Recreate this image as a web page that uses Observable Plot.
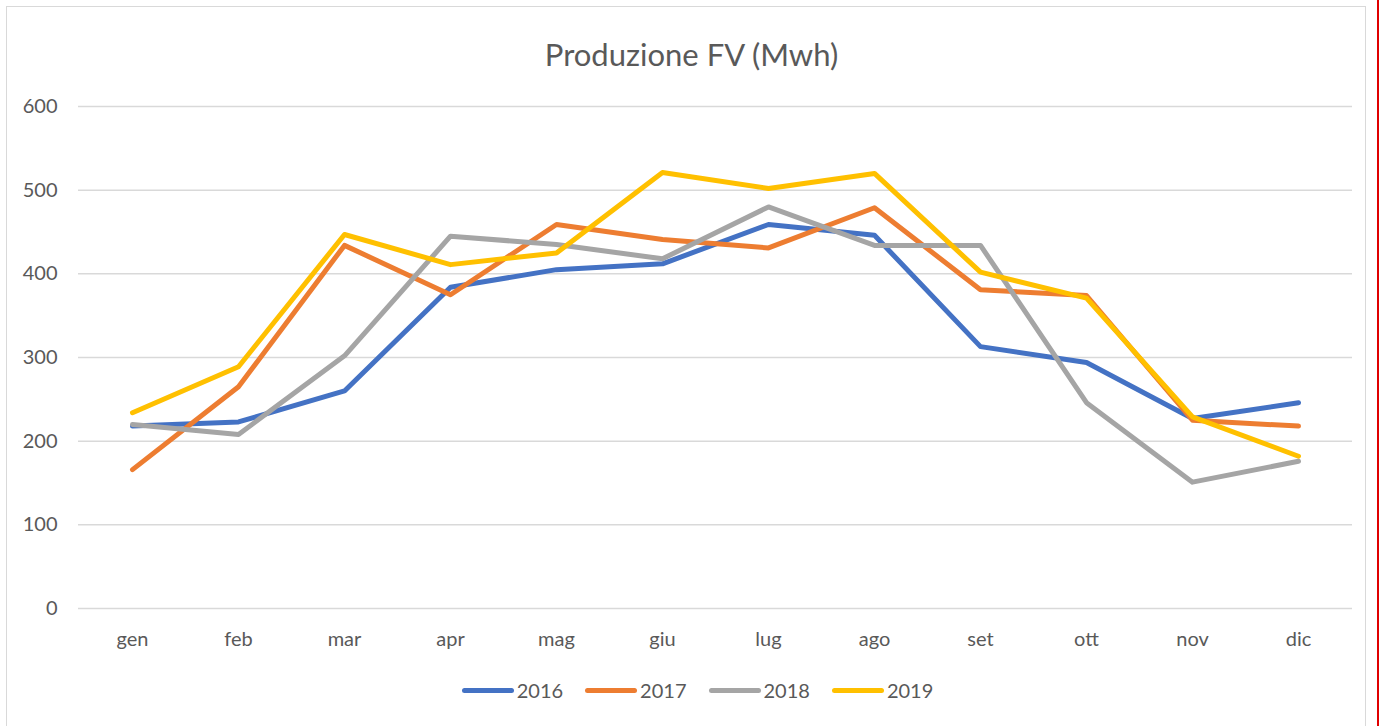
<!DOCTYPE html>
<html>
<head>
<meta charset="utf-8">
<script src="https://cdn.jsdelivr.net/npm/d3@7"></script>
<script src="https://cdn.jsdelivr.net/npm/@observablehq/plot@0.6"></script>
<style>
  html, body { margin: 0; padding: 0; background: #fff; }
  #frame { position: relative; width: 1383px; height: 726px; overflow: hidden; font-family: Lato, "Open Sans", sans-serif; }
  #border { position: absolute; left: 6px; top: 6px; width: 1360px; height: 740px; border: 1px solid #d9d9d9; box-sizing: border-box; }
  #redline { position: absolute; left: 1377px; top: 0; width: 2px; height: 726px; background: #e00000; }
  #title { position: absolute; left: 0; top: 35px; width: 1383px; text-align: center; font-size: 31px; color: #595959; }
  #chart { position: absolute; left: 0; top: 80px; }
  #legend { position: absolute; left: 0; top: 678px; width: 1383px; display: flex; justify-content: center; gap: 22px; font-size: 20px; color: #595959; padding-left: 12px; box-sizing: border-box; }
  .item { display: flex; align-items: center; gap: 3px; }
  .sw { width: 52px; height: 5px; border-radius: 3px; }
</style>
</head>
<body>
<div id="frame">
  <div id="border"></div>
  <div id="redline"></div>
  <div id="title">Produzione FV (Mwh)</div>
  <div id="chart"></div>
  <div id="legend"></div>
</div>
<script>
const months = ["gen","feb","mar","apr","mag","giu","lug","ago","set","ott","nov","dic"];
const years = ["2016","2017","2018","2019"];
const colors = ["#4472C4","#ED7D31","#A5A5A5","#FFC000"];
const y2016 = [218, 223, 260, 384, 405, 412, 459, 446, 313, 294, 227, 246];
const y2017 = [166, 265, 434, 375, 459, 441, 431, 479, 381, 374, 225, 218];
const y2018 = [220, 208, 302, 445, 435, 418, 480, 434, 434, 246, 151, 176];
const y2019 = [234, 289, 447, 411, 425, 521, 502, 520, 402, 371, 229, 182];
const yTicks = [0, 100, 200, 300, 400, 500, 600];

const series = [y2016, y2017, y2018, y2019];
const data = [];
series.forEach((vals, i) => vals.forEach((v, j) => data.push({year: years[i], month: months[j], value: v})));

const plot = Plot.plot({
  width: 1383,
  height: 590,
  marginLeft: 78,
  marginRight: 31,
  marginTop: 26,
  marginBottom: 62,
  style: { fontFamily: "Lato, 'Open Sans', sans-serif", fontSize: "20px", color: "#595959", background: "transparent" },
  x: { type: "band", domain: months, padding: 0, label: null },
  y: { domain: [0, 600], label: null },
  color: { domain: years, range: colors },
  marks: [
    Plot.gridY(yTicks, { stroke: "#d9d9d9", strokeOpacity: 1, strokeWidth: 1.5 }),
    Plot.axisX({ tickSize: 0, tickPadding: 23, fontSize: 20, fill: "#595959" }),
    Plot.axisY(yTicks, { tickSize: 0, tickPadding: 21, fontSize: 20, fill: "#595959" }),
    Plot.line(data, { x: "month", y: "value", z: "year", stroke: "year", strokeWidth: 5, strokeLinejoin: "round", strokeLinecap: "round" })
  ]
});
document.getElementById("chart").appendChild(plot);

const legend = document.getElementById("legend");
years.forEach((yr, i) => {
  const it = document.createElement("div");
  it.className = "item";
  const sw = document.createElement("div");
  sw.className = "sw";
  sw.style.background = colors[i];
  const t = document.createElement("span");
  t.textContent = yr;
  it.appendChild(sw); it.appendChild(t);
  legend.appendChild(it);
});
</script>
</body>
</html>
